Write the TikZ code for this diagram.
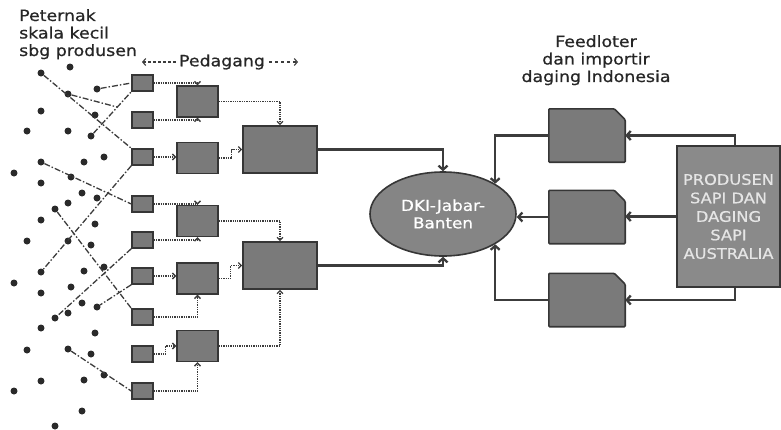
\documentclass[tikz,border=0pt]{standalone}
\usepackage{fontspec}
\newfontfamily\labelfont{DejaVu Sans}[FakeStretch=1.12,FakeBold=0.7]
\usetikzlibrary{arrows.meta,shapes.geometric}
\definecolor{boxfill}{HTML}{7A7A7A}
\definecolor{boxline}{HTML}{363636}
\definecolor{ink}{HTML}{3C3C3C}
\definecolor{dotcol}{HTML}{2A2A2A}
\tikzset{
  lbl/.style={font=\labelfont\fontsize{15.5}{17.5}\selectfont, text=black!85, inner sep=0pt},
  sbox/.style={draw=boxline, fill=boxfill, line width=1.4pt, minimum width=21pt, minimum height=16pt, inner sep=0pt},
  mbox/.style={sbox, minimum width=41pt, minimum height=31pt},
  bbox/.style={sbox, line width=1.6pt, minimum width=74pt, minimum height=47pt},
  fbox/.style={minimum width=76pt, minimum height=53pt, inner sep=0pt},
  lipat/.style={draw=boxline, fill=boxfill, line width=1.6pt, rounded corners=1pt},
  ternak/.style={circle, fill=dotcol, inner sep=0pt, minimum size=7pt},
  rantai/.style={draw=ink, line width=1.3pt, dash pattern=on 6pt off 2pt on 1.5pt off 2pt},
  jalur/.style={draw=ink, line width=1.3pt, densely dotted, -{Straight Barb[length=3pt,width=6pt]}},
  arus/.style={draw=ink, line width=2.3pt, -{Straight Barb[length=4pt,width=9pt]}}
}
\begin{document}
\begin{tikzpicture}[x=1pt,y=-1pt]
\useasboundingbox (0,0) rectangle (781,429);
\node[lbl, align=left, anchor=north west] (pet) at (19,9) {Peternak\\skala kecil\\sbg produsen};
\node[lbl] (ped) at (222,62) {Pedagang};
\coordinate (pl) at (142,62);
\coordinate (pr) at (298,62);
\draw[draw=ink, line width=1.1pt, densely dashed, {Straight Barb[length=3pt,width=7pt]}-] (pl) -- ([xshift=-2pt]ped.west);
\draw[draw=ink, line width=1.1pt, dashed, -{Straight Barb[length=3pt,width=7pt]}] ([xshift=4pt]ped.east) -- (pr);
\node[lbl, align=center, anchor=north] (fdl) at (596,35) {Feedloter\\dan importir\\daging Indonesia};

\foreach \x/\y [count=\i] in {70/67,41/73,97/89,68/94,41/111,95/115,27/131,68/131,91/136,104/157,
  41/162,84/162,14/173,71/177,41/183,82/193,97/198,68/203,55/209,41/220,95/224,27/241,68/241,91/245,
  104/267,41/272,84/271,14/283,71/287,41/293,82/303,97/307,68/313,55/318,41/328,95/333,27/350,68/349,
  91/354,104/375,41/381,84/380,14/391,82/411,55/426}
  \node[ternak] (d\i) at (\x,\y) {};

\foreach \y [count=\i] in {83,120,157,204,240,276,317,354,391}
  \node[sbox] (s\i) at (142.5,\y) {};
\foreach \y [count=\i] in {101.5,158,221,278.5,346}
  \node[mbox] (m\i) at (197.5,\y) {};
\node[bbox] (b1) at (280,149.5) {};
\node[bbox] (b2) at (280,265.5) {};

\coordinate (j1) at (117,107);
\draw[rantai] (d2) -- (s3.north west);
\draw[rantai] (d3) -- (s1.west);
\draw[rantai] (d4) -- (j1);
\draw[rantai] (d9) -- (s1.south west);
\draw[rantai] (d11) -- (s4.west);
\draw[rantai] (s3.south west) -- (d26);
\draw[rantai] (d19) -- (s7.north west);
\draw[rantai] (s5.south west) -- (d34);
\draw[rantai] (s6.south west) -- (d32);
\draw[rantai] (d38) -- (s9.west);

\draw[jalur] (s1.east) -| (m1.north);
\draw[jalur] (s2.east) -| (m1.south);
\draw[jalur] (s3.east) -- (s3.east -| m2.west);
\draw[jalur] (s4.east) -| (m3.north);
\draw[jalur] (s5.east) -| (m3.south);
\draw[jalur] (s6.east) -- (s6.east -| m4.west);
\draw[jalur] (s7.east) -| (m4.south);
\draw[jalur] (s8.east) -- ++(12pt,0) |- (m5.west);
\draw[jalur] (s9.east) -| (m5.south);
\draw[jalur] (m1.east) -| (b1.north);
\draw[jalur] (m2.east) -- ++(13pt,0) |- (b1.west);
\draw[jalur] (m3.east) -| (b2.north);
\draw[jalur] (m4.east) -- ++(12pt,0) |- (b2.west);
\draw[jalur] (m5.east) -| (b2.south);

\node[ellipse, draw=boxline, fill=boxfill!92!white, line width=1.6pt, minimum width=146pt, minimum height=84pt,
  inner sep=0pt, align=center, lbl, font=\labelfont\fontsize{15}{17.5}\selectfont, text=white] (dki) at (443,214) {DKI-Jabar-\\Banten};
\foreach \y [count=\i] in {135.5,217,300} {
  \node[fbox] (f\i) at (587,\y) {};
  \draw[lipat] (f\i.south west) |- ([xshift=-11pt]f\i.north east) -- ([yshift=-11pt]f\i.north east) |- cycle;
}
\node[draw=boxline, fill=boxfill!88!white, line width=1.6pt, minimum width=103pt, minimum height=141pt,
  inner sep=0pt, align=center, font=\labelfont\fontsize{14.5}{18.5}\selectfont, text=white!90!black] (prod) at (728.5,216.5)
  {PRODUSEN\\SAPI DAN\\DAGING\\SAPI\\AUSTRALIA};

\draw[arus] (b1.east) -| (dki.north);
\draw[arus] (b2.east) -| (dki.south);
\draw[arus] (f1.west) -| (dki.north east);
\draw[arus] (f2.west) -- (f2.west -| dki.east);
\draw[arus] (f3.west) -| (dki.south east);
\draw[arus] ([xshift=6.5pt]prod.north) |- (f1.east);
\draw[arus] (prod.west) -- (prod.west -| f2.east);
\draw[arus] ([xshift=6.5pt]prod.south) |- (f3.east);
\end{tikzpicture}
\end{document}
